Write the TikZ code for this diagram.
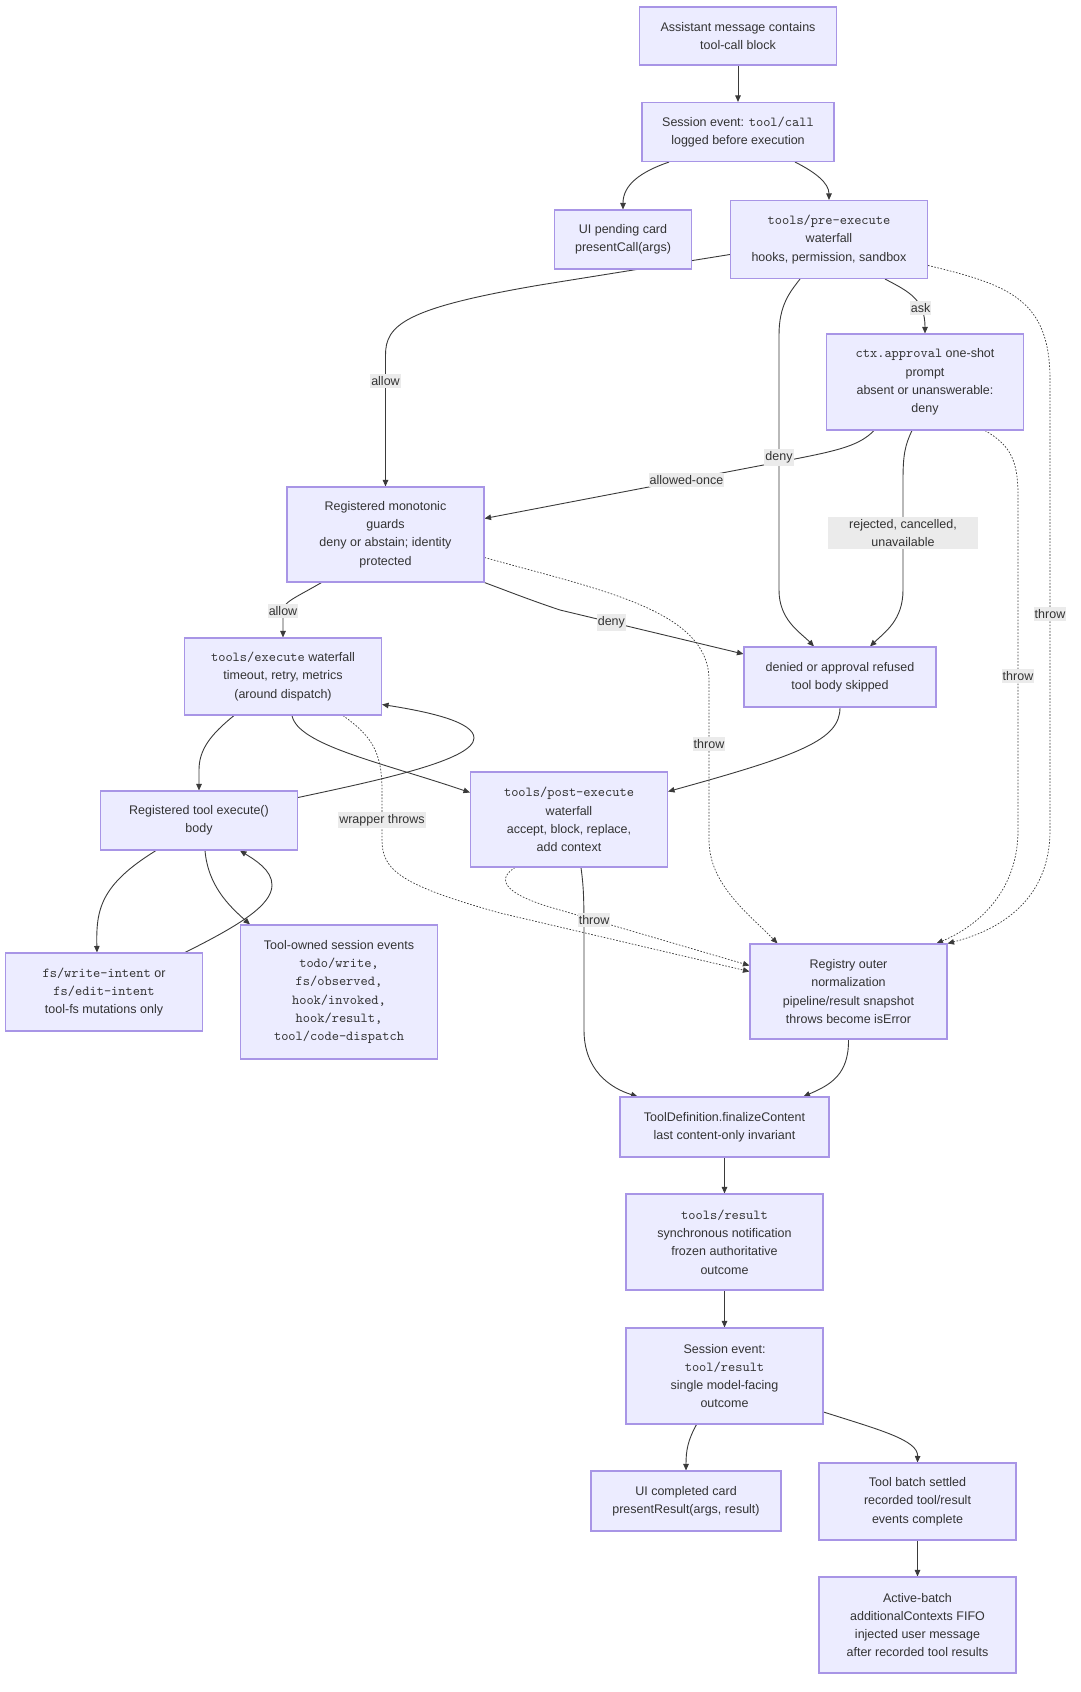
\documentclass[tikz,border=0pt]{standalone}
\usepackage{fontspec}
\setmainfont{Liberation Sans}
\setmonofont{lmmono10-regular.otf}[Scale=1.1]
\usetikzlibrary{arrows.meta,backgrounds}

\definecolor{boxfill}{HTML}{ECECFF}
\definecolor{boxline}{HTML}{A895E6}
\definecolor{ink}{HTML}{333333}
\definecolor{wirecol}{HTML}{3A3A3A}
\definecolor{lblfill}{HTML}{EBEBEB}

\tikzset{
  box/.style={draw=boxline, fill=boxfill, line width=1.1pt, text=ink, align=center,
    inner sep=0pt, minimum width=197pt, minimum height=#1},
  box/.default=59pt,
  wire/.style={draw=wirecol, line width=0.9pt, -{Triangle[length=6.5pt,width=5.5pt]}},
  dots/.style={wire, line width=0.7pt, dash pattern=on 1.6pt off 1.6pt},
  lbl/.style={fill=lblfill, text=ink, inner xsep=1pt, inner ysep=2.5pt},
}

\begin{document}
\begin{tikzpicture}[x=1pt,y=-1pt,font=\fontsize{12.5pt}{18.3pt}\selectfont]
\useasboundingbox (0,0) rectangle (1080,1692);

\node[box, minimum height=58pt] (asst) at (738,36) {Assistant message contains\\tool-call block};
\node[box, minimum width=192pt] (callev) at (738,132) {Session event: \texttt{tool/call}\\logged before execution};
\node[box, minimum width=137pt] (pending) at (623,239.5) {UI pending card\\presentCall(args)};
\node[box=78pt] (preexec) at (829,239.5) {\texttt{tools/pre-execute}\\waterfall\\hooks, permission, sandbox};
\node[box=96pt] (approval) at (925,382) {\texttt{ctx.approval} one-shot\\prompt\\absent or unanswerable:\\deny};
\node[box=95pt] (guards) at (385.5,534.5) {Registered monotonic\\guards\\deny or abstain; identity\\protected};
\node[box=60pt, minimum width=192pt] (denied) at (840,677) {denied or approval refused\\tool body skipped};
\node[box=77pt] (execw) at (283,676.5) {\texttt{tools/execute} waterfall\\timeout, retry, metrics\\(around dispatch)};
\node[box] (tbody) at (199,820.5) {Registered tool execute()\\body};
\node[box=95pt] (post) at (569,819.5) {\texttt{tools/post-execute}\\waterfall\\accept, block, replace,\\add context};
\node[box=78pt] (fsint) at (104,992) {\texttt{fs/write-intent} or\\\texttt{fs/edit-intent}\\tool-fs mutations only};
\node[box=134pt] (owned) at (339,992) {Tool-owned session events\\\texttt{todo/write,}\\\texttt{fs/observed,}\\\texttt{hook/invoked,}\\\texttt{hook/result,}\\\texttt{tool/code-dispatch}};
\node[box=95pt] (registry) at (848.5,991.5) {Registry outer\\normalization\\pipeline/result snapshot\\throws become isError};
\node[box=60pt, minimum width=209pt] (finalize) at (724.5,1127) {ToolDefinition.finalizeContent\\last content-only invariant};
\node[box=96pt] (tresult) at (724.5,1242) {\texttt{tools/result}\\synchronous notification\\frozen authoritative\\outcome};
\node[box=96pt] (sresult) at (724.5,1376) {Session event:\\\texttt{tool/result}\\single model-facing\\outcome};
\node[box=60pt, minimum width=190pt] (uidone) at (686,1501) {UI completed card\\presentResult(args, result)};
\node[box=77pt] (settled) at (917.5,1501.5) {Tool batch settled\\recorded tool/result\\events complete};
\node[box=96pt] (active) at (917.5,1625) {Active-batch\\additionalContexts FIFO\\injected user message\\after recorded tool results};

\begin{scope}[on background layer]
\draw[wire] (asst) -- (callev);
\draw[wire] ([xshift=-69pt]callev.south) .. controls (640,172) and (623,185) .. (pending.north);
\draw[wire] ([xshift=57pt]callev.south) .. controls (815,172) and (829,183) .. (preexec.north);
\draw[wire] ([yshift=-15pt]preexec.west) -- (540,285) .. controls (405,308) and (385.5,325) .. (385.5,355) -- node[lbl,pos=0.2]{allow} (guards.north);
\draw[wire] ([xshift=56pt]preexec.south) .. controls (910,292) and (925,300) .. node[lbl,pos=0.68]{ask} (approval.north);
\draw[wire] ([xshift=-51pt]approval.south) .. controls (860,445) and (840,450) .. (800,458) -- node[lbl,pos=0.36]{allowed-once} ([yshift=16pt]guards.east);
\draw[wire] ([xshift=-29pt]preexec.south) .. controls (790,292) and (779,305) .. (779,335) -- node[lbl,pos=0.48]{deny} (779,590) .. controls (779,620) and (800,632) .. ([xshift=-26pt]denied.north);
\draw[dots] ([yshift=-26pt]preexec.east) .. controls (1010,285) and (1050,300) .. (1050,380) -- node[lbl,pos=0.52]{throw} (1050,830) .. controls (1050,900) and (1000,930) .. (registry.north east);
\draw[wire] ([xshift=-13pt]approval.south) .. controls (905,445) and (903,455) .. (903,480) -- node[lbl,pos=0.48,minimum width=150pt,align=center]{rejected, cancelled,\\unavailable} (903,590) .. controls (903,620) and (885,632) .. ([xshift=30pt]denied.north);
\draw[dots] ([xshift=60pt]approval.south) .. controls (1010,445) and (1018,460) .. (1018,495) -- node[lbl,pos=0.54]{throw} (1018,830) .. controls (1018,890) and (980,925) .. ([xshift=-11pt]registry.north east);
\draw[wire] ([xshift=-64pt]guards.south) .. controls (295,598) and (283,602) .. (283,611) node[lbl]{allow} -- (execw.north);
\draw[wire] (guards.south east) .. controls (510,592) and (530,600) .. (560,610) -- node[lbl,pos=0.28]{deny} ([yshift=23pt]denied.west);
\draw[dots] ([yshift=-23pt]guards.east) .. controls (600,590) and (709,610) .. (709,680) -- node[lbl,pos=0.4]{throw} (709,840) .. controls (709,885) and (750,915) .. ([xshift=-71pt]registry.north);
\draw[wire] ([xshift=-49pt]execw.south) .. controls (210,735) and (199,750) .. (199,770) -- (tbody.north);
\draw[wire] ([xshift=9pt]execw.south) .. controls (298,745) and (380,762) .. ([yshift=27pt]post.west);
\draw[wire] ([yshift=23pt]tbody.east) .. controls (380,780) and (474,760) .. (474,738) .. controls (474,722) and (430,712) .. ([yshift=-28pt]execw.east);
\draw[dots] ([xshift=60pt]execw.south) .. controls (370,735) and (382,750) .. (382,790) -- node[lbl,pos=0.6]{wrapper throws} (382,840) .. controls (382,870) and (400,885) .. (500,913) -- ([yshift=20pt]registry.west);
\draw[wire] ([xshift=-43pt]tbody.south) .. controls (100,885) and (96,910) .. ([xshift=-7pt]fsint.north);
\draw[wire] ([xshift=6pt]tbody.south) .. controls (208,885) and (228,905) .. ([xshift=-89pt]owned.north);
\draw[wire] ([xshift=81pt]fsint.north) .. controls (240,925) and (272,905) .. (272,885) .. controls (272,870) and (255,860) .. ([xshift=41pt]tbody.south);
\draw[wire] ([xshift=12pt]post.south) .. controls (584,890) and (584,900) .. (584,950) -- (584,1030) .. controls (584,1070) and (610,1088) .. ([xshift=-87pt]finalize.north);
\draw[dots] ([xshift=-54pt]post.south) .. controls (495,880) and (505,895) .. (560,910) -- node[lbl,pos=0.18]{throw} ([yshift=26pt]registry.west);
\draw[wire] (denied.south) .. controls (840,740) and (800,755) .. ([yshift=28pt]post.east);
\draw[wire] (registry.south) .. controls (849,1075) and (830,1085) .. ([xshift=79pt]finalize.north);
\draw[wire] (finalize) -- (tresult);
\draw[wire] (tresult) -- (sresult);
\draw[wire] ([xshift=-28pt]sresult.south) .. controls (688,1440) and (686,1450) .. (uidone.north);
\draw[wire] ([yshift=-36pt]sresult.east) .. controls (880,1430) and (918,1440) .. (settled.north);
\draw[wire] (settled) -- (active);
\end{scope}
\end{tikzpicture}
\end{document}
